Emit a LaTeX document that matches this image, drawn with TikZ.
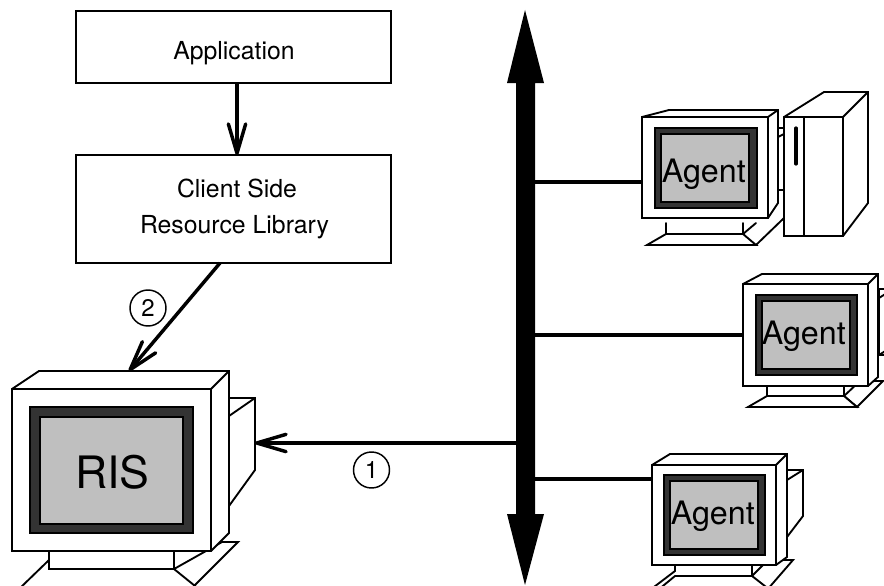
\documentclass[tikz,border=0pt]{standalone}
\usepackage{fontspec}
\setmainfont{TeX Gyre Heros}
\usetikzlibrary{arrows.meta}
\tikzset{
  outline/.style={draw=black,line width=1.4pt,line join=miter,fill=white},
  edge/.style={draw=black,line width=1.4pt,line cap=round,line join=round},
  bezel/.style={draw=black,line width=1.1pt,fill=black!80},
  screen/.style={draw=black,line width=1.1pt,fill=black!25,inner sep=0pt},
  box/.style={draw=black,line width=1.4pt,fill=white,outer sep=0pt,inner sep=0pt},
  boxtext/.style={inner sep=0pt,anchor=base,font=\fontsize{18.6pt}{27pt}\selectfont},
  wire/.style={draw=black,line width=2.6pt},
  link/.style={wire,-{Straight Barb[length=22pt,width=13pt,round]}},
  agentlabel/.style={inner sep=0pt,anchor=base west,font=\fontsize{24.2pt}{28pt}\selectfont},
  num/.style={circle,draw=black,line width=1.1pt,minimum size=27pt,inner sep=0pt,font=\fontsize{18pt}{20pt}\selectfont},
}
\begin{document}
\begin{tikzpicture}[x=0.75pt,y=-0.75pt]
\clip (0,0) rectangle (884,585);
% bus
\fill[black] (525,10) -- (544,83) -- (535,83) -- (535,514) -- (544,514) -- (525,585) -- (507,514) -- (516,514) -- (516,83) -- (507,83) -- cycle;
\coordinate (busA) at (535,182);
\coordinate (busB) at (535,335);
\coordinate (busC) at (535,479);
\coordinate (busR) at (516,443);
% boxes
\node[box,minimum width=236.25pt,minimum height=54pt] (app) at (233.5,47) {};
\node[boxtext] (apptext) at (234,59.3) {Application};
\node[box,minimum width=236.25pt,minimum height=81pt] (lib) at (233.5,209) {};
\node[boxtext] (libtexta) at (237,197) {Client Side};
\node[boxtext] (libtextb) at (234.5,233) {Resource Library};
% RIS monitor
\draw[outline] (229,398) -- (255,398) -- (255,470) -- (229,506) -- cycle;
\draw[edge] (229,416) -- (255,398);
\draw[outline] (222,542) -- (238,542) -- (190,590) -- (174,569) -- cycle;
\draw[outline] (49,560) -- (18,590) -- (200,590) -- (174,569) -- (49,569) -- cycle;
\draw[outline] (49,551) rectangle (174,569);
\draw[outline] (12,389) -- (39,371) -- (229,371) -- (229,533) -- (211,551) -- (12,551) -- cycle;
\draw[edge] (12,389) -- (211,389) -- (229,371) (211,389) -- (211,551);
\draw[bezel] (30,407) rectangle (193,533);
\node[screen,minimum width=107.25pt,minimum height=80.25pt] (ris) at (111.5,470.5) {};
\node[agentlabel,font=\fontsize{33.5pt}{40pt}\selectfont] (ristext) at (75,488) {RIS};
\coordinate (risB) at (255,443);
\coordinate (risT) at (129,371);
% Agent 1 monitor and tower
\draw[outline] (778,128) -- (790,128) -- (790,190) -- (778,190) -- cycle;
\draw[edge] (778,137) -- (790,131);
\draw[edge] (743,234) -- (756,223) (756,245) -- (784,218);
\draw[edge] (666,223) -- (666,234) (743,223) -- (743,234) (666,234) -- (743,234);
\draw[outline] (666,234) -- (647,245) -- (756,245) -- (743,234) -- cycle;
\draw[outline] (642,117) -- (669,110) -- (778,110) -- (778,203) -- (768,218) -- (642,218) -- cycle;
\draw[edge] (642,117) -- (768,117) -- (778,110) (768,117) -- (768,218);
\draw[bezel] (655,128) rectangle (757,208);
\node[screen,minimum width=66pt,minimum height=51pt] (a1) at (705,168) {};
\node[agentlabel] (a1text) at (661.5,182) {Agent};
\coordinate (a1L) at (642,182);
\draw[outline] (784,117) -- (824,92) -- (868,92) -- (868,203) -- (843,236) -- (784,236) -- cycle;
\draw[edge] (784,117) -- (843,117) -- (868,92) (843,117) -- (843,236) (804,117) -- (804,236);
\draw[draw=black,line width=2.4pt,line cap=round] (796,128) -- (796,164);
% Agent 2
\draw[outline] (879,289) -- (890,289) -- (890,355) -- (879,355) -- cycle;
\draw[edge] (879,298) -- (890,291) (879,355) -- (890,348);
\draw[outline] (844,396) -- (860,381) -- (883,381) -- (857,407) -- cycle;
\draw[outline] (767,386) -- (844,386) -- (844,396) -- (857,407) -- (748,407) -- (767,396) -- cycle;
\draw[edge] (767,396) -- (844,396);
\draw[outline] (743,284) -- (762,274) -- (878,274) -- (878,377) -- (868,386) -- (743,386) -- cycle;
\draw[edge] (743,284) -- (868,284) -- (878,274) (868,284) -- (868,386);
\draw[bezel] (756,295) rectangle (857,375);
\node[screen,minimum width=66pt,minimum height=51pt] (a2) at (806,335) {};
\node[agentlabel] (a2text) at (761.5,344) {Agent};
\coordinate (a2L) at (743,335);
% Agent 3
\draw[outline] (787,470) -- (803,470) -- (803,516) -- (787,537) -- cycle;
\draw[edge] (787,480) -- (803,470);
\draw[outline] (763,565) -- (778,560) -- (793,560) -- (767,590) -- (752,576) -- cycle;
\draw[outline] (675,565) -- (752,565) -- (752,576) -- (770,590) -- (650,590) -- (675,571) -- cycle;
\draw[edge] (675,576) -- (752,576);
\draw[edge] (675,576) -- (658,590);
\draw[outline] (652,465) -- (670,454) -- (787,454) -- (787,557) -- (776,565) -- (652,565) -- cycle;
\draw[edge] (652,465) -- (776,465) -- (787,454) (776,465) -- (776,565);
\draw[bezel] (664,475) rectangle (765,555);
\node[screen,minimum width=66pt,minimum height=51pt] (a3) at (714,515) {};
\node[agentlabel] (a3text) at (670.5,524) {Agent};
\coordinate (a3L) at (652,479);
% connectors
\draw[wire] (busA) -- (a1L);
\draw[wire] (busB) -- (a2L);
\draw[wire] (busC) -- (a3L);
\draw[link] (busR) -- (risB);
\draw[link] (app.south -| 237,0) -- (lib.north -| 237,0);
\coordinate (libOut) at (220,263);
\draw[link] (libOut) -- (risT);
\node[num] (n2) at (148,308) {2};
\node[num] (n1) at (371.5,470) {1};
\end{tikzpicture}
\end{document}
